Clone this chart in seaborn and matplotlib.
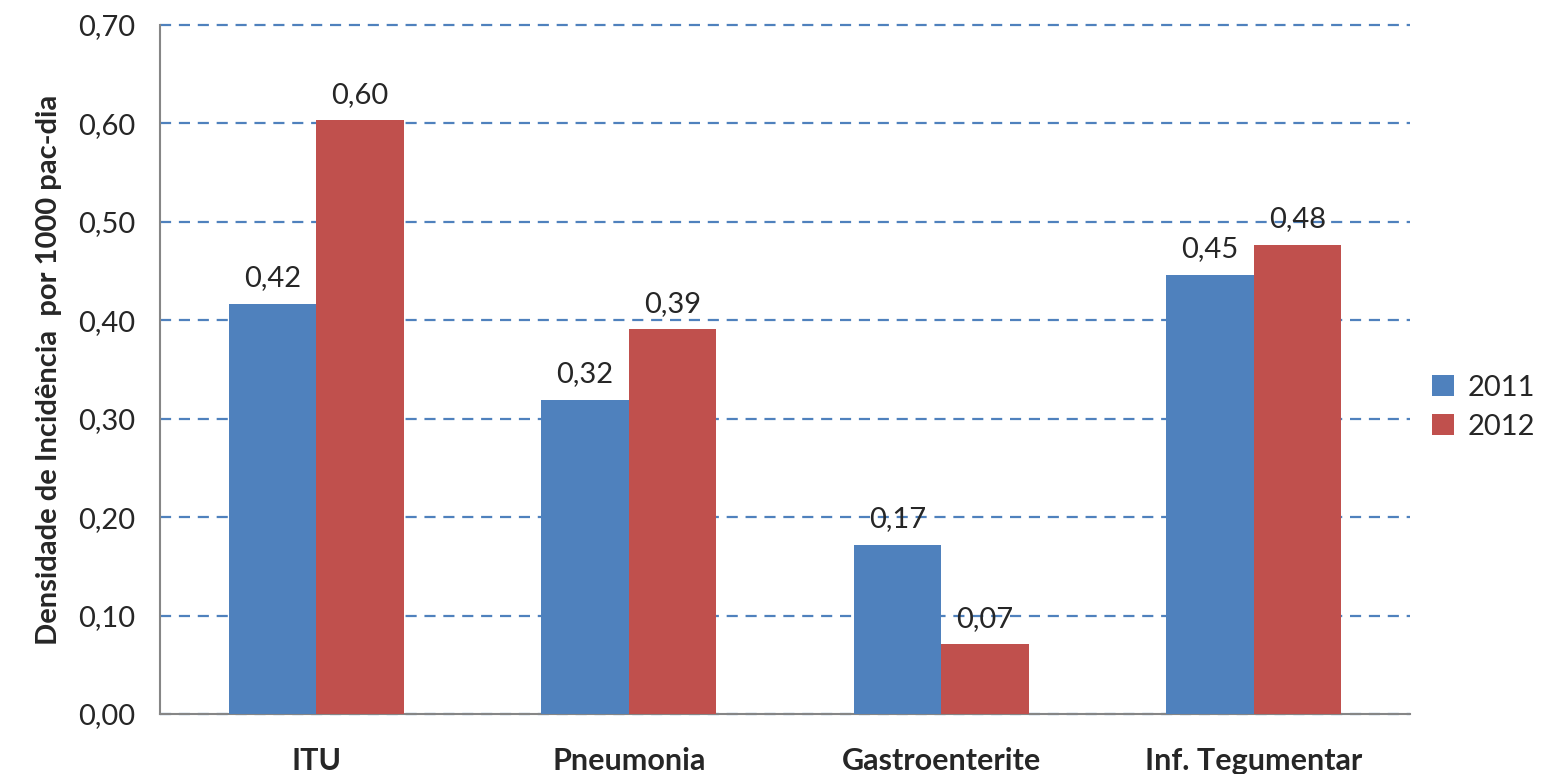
import pandas as pd
import numpy as np
import matplotlib.pyplot as plt
import seaborn as sns

# Chart data
categories = ['ITU', 'Pneumonia', 'Gastroenterite', 'Inf. Tegumentar']
years = ['2011', '2012']
values_2011 = [0.417, 0.319, 0.172, 0.446]
values_2012 = [0.603, 0.391, 0.071, 0.477]
y_ticks = [0.0, 0.1, 0.2, 0.3, 0.4, 0.5, 0.6, 0.7]

df = pd.DataFrame({
    'Categoria': categories * 2,
    'Ano': [years[0]] * len(categories) + [years[1]] * len(categories),
    'Valor': values_2011 + values_2012,
})

sns.set_style('white')
plt.rcParams['font.family'] = ['Lato', 'DejaVu Sans']

fig = plt.figure(figsize=(15.59, 7.74), dpi=100)
ax = fig.add_axes([0.1026, 0.0775, 0.8018, 0.8902])

palette = {'2011': '#4F81BD', '2012': '#C0504D'}
sns.barplot(data=df, x='Categoria', y='Valor', hue='Ano', palette=palette,
            width=0.56, saturation=1, ax=ax, zorder=3, edgecolor='none')

# Data labels with comma decimals
for cont in ax.containers:
    ax.bar_label(cont, labels=[f'{v:.2f}'.replace('.', ',') for v in cont.datavalues],
                 padding=9, fontsize=21, zorder=4)

ax.set_ylim(0, 0.7)
ax.set_xlim(-0.5, 3.5)
ax.set_yticks(y_ticks)
ax.set_yticklabels([f'{t:.2f}'.replace('.', ',') for t in y_ticks], fontsize=21)

ax.yaxis.grid(True, linestyle=(0, (5, 3.5)), color='#4F81BD', linewidth=1.6, zorder=0)
ax.set_axisbelow(True)
# keep top gridline (0,70) fully visible
for gl in ax.get_ygridlines():
    gl.set_clip_on(False)

# category ticks between groups
ax.set_xticks(range(len(categories)))
ax.set_xticklabels(categories, fontsize=22, fontweight='bold')
ax.set_xticks(np.arange(-0.5, 4, 1), minor=True)
ax.tick_params(axis='x', which='major', length=0, pad=24)
ax.tick_params(axis='x', which='minor', length=7, width=1.5, color='#868686', direction='out')
ax.tick_params(axis='y', length=6, width=1.5, color='#868686', direction='out', pad=12)

for side in ['top', 'right']:
    ax.spines[side].set_visible(False)
for side in ['left', 'bottom']:
    ax.spines[side].set_color('#868686')
    ax.spines[side].set_linewidth(1.5)

ax.set_xlabel('')
ax.set_ylabel('Densidade de Incidência  por 1000 pac-dia', fontsize=21, fontweight='bold', labelpad=11)

ax.legend(loc='center left', bbox_to_anchor=(0.997, 0.445), frameon=False, fontsize=21,
          handlelength=0.75, handleheight=0.75, handletextpad=0.45, labelspacing=0.45)

fig.savefig('out.png', dpi=100)
